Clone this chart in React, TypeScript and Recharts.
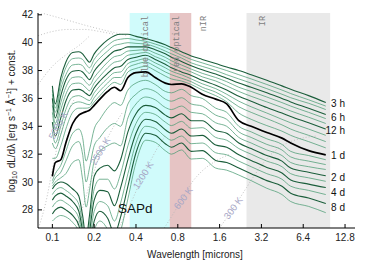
import { LineChart, Line, XAxis, YAxis, ReferenceArea } from "recharts";

// wavelength grid in microns
const wave = [0.1, 0.105, 0.115, 0.125, 0.14, 0.155, 0.165, 0.175, 0.185, 0.2, 0.22, 0.25, 0.28, 0.31, 0.35, 0.4, 0.47, 0.55, 0.65, 0.72, 0.85, 1.0, 1.2, 1.5, 1.8, 2.2, 2.7, 3.5, 4.5, 5.2, 7, 9.3];

// early epochs (above 1 d)
const h3 = [36.9, 35.6, 37.5, 38.6, 39.3, 39.35, 39.2, 38.85, 38.6, 39.2, 39.7, 40.2, 40.5, 40.6, 40.6, 40.45, 40.3, 40.1, 39.85, 39.65, 39.35, 39.05, 38.8, 38.5, 38.25, 38.0, 37.7, 37.3, 36.9, 36.65, 36.2, 35.7];
const l2 = [36.6, 35.3, 37.1, 38.2, 38.85, 38.9, 38.8, 38.45, 38.2, 38.8, 39.3, 39.8, 40.15, 40.25, 40.3, 40.2, 40.1, 39.9, 39.65, 39.45, 39.1, 38.8, 38.55, 38.25, 38.0, 37.7, 37.4, 37.0, 36.6, 36.35, 35.9, 35.45];
const l3 = [36.3, 35.0, 36.7, 37.7, 38.4, 38.45, 38.35, 38.0, 37.8, 38.4, 38.9, 39.4, 39.8, 39.9, 40.0, 39.95, 39.9, 39.7, 39.4, 39.2, 38.9, 38.55, 38.3, 38.0, 37.7, 37.4, 37.1, 36.7, 36.3, 36.05, 35.65, 35.2];
const h6 = [36.0, 34.6, 36.2, 37.3, 37.95, 38.0, 37.9, 37.6, 37.35, 37.95, 38.45, 39.0, 39.4, 39.5, 39.7, 39.7, 39.7, 39.5, 39.2, 38.95, 38.65, 38.35, 38.05, 37.75, 37.45, 37.1, 36.8, 36.4, 36.0, 35.75, 35.3, 34.85];
const l5 = [35.5, 34.2, 35.7, 36.8, 37.5, 37.55, 37.45, 37.15, 36.95, 37.5, 38.0, 38.6, 39.0, 39.1, 39.4, 39.45, 39.5, 39.25, 38.95, 38.7, 38.4, 38.1, 37.8, 37.5, 37.2, 36.8, 36.5, 36.1, 35.7, 35.45, 35.0, 34.55];
const l6 = [35.0, 33.8, 35.2, 36.3, 37.05, 37.1, 37.0, 36.75, 36.55, 37.1, 37.6, 38.2, 38.6, 38.7, 39.1, 39.2, 39.3, 39.0, 38.7, 38.45, 38.15, 37.9, 37.55, 37.25, 36.9, 36.5, 36.15, 35.75, 35.35, 35.1, 34.65, 34.2];
const h12 = [34.3, 33.3, 34.6, 35.8, 36.6, 36.65, 36.55, 36.35, 36.2, 36.75, 37.25, 37.8, 38.2, 38.3, 38.8, 38.95, 39.1, 38.8, 38.45, 38.2, 37.9, 37.65, 37.3, 36.95, 36.6, 36.15, 35.8, 35.35, 34.95, 34.7, 34.25, 33.8];
const l8 = [33.6, 32.8, 34.0, 35.2, 36.1, 36.2, 36.1, 35.95, 35.85, 36.4, 36.9, 37.45, 37.85, 37.9, 38.5, 38.7, 38.85, 38.55, 38.2, 37.95, 37.7, 37.4, 37.05, 36.7, 36.3, 35.8, 35.4, 34.95, 34.5, 34.25, 33.8, 33.35];
const l9 = [32.8, 32.4, 33.4, 34.6, 35.6, 35.75, 35.7, 35.6, 35.55, 36.05, 36.55, 37.1, 37.5, 37.5, 38.2, 38.45, 38.6, 38.3, 37.9, 37.7, 37.45, 37.2, 36.8, 36.45, 36.0, 35.4, 35.0, 34.55, 34.1, 33.8, 33.35, 32.9];
const l10 = [31.7, 31.7, 32.6, 33.8, 35.0, 35.3, 35.3, 35.3, 35.35, 35.75, 36.2, 36.8, 37.15, 37.0, 37.9, 38.15, 38.3, 38.0, 37.6, 37.4, 37.25, 37.0, 36.6, 36.2, 35.75, 34.95, 34.5, 34.05, 33.65, 33.35, 32.9, 32.45];

// 1 d
const d1 = [30.4, 31.4, 31.6, 32.8, 34.2, 34.8, 34.95, 35.05, 35.15, 35.5, 35.95, 36.5, 36.8, 36.55, 37.5, 37.85, 37.9, 37.5, 37.1, 37.0, 37.05, 36.8, 36.3, 35.95, 35.6, 34.4, 34.0, 33.55, 33.15, 32.8, 32.25, 31.95];

// late epochs (below 1 d)
const b1 = [30.1, 30.6, 31.2, 32.2, 33.5, 33.8, 33.2, 31.5, 32.3, 33.8, 34.5, 35.3, 35.7, 35.5, 36.6, 37.1, 37.3, 37.0, 36.5, 36.4, 36.65, 36.2, 36.0, 35.3, 35.0, 34.0, 33.6, 33.1, 32.7, 32.2, 31.9, 31.6];
const b2 = [29.9, 30.3, 30.7, 31.5, 32.6, 32.9, 32.0, 30.0, 31.0, 32.6, 33.2, 33.9, 34.2, 34.0, 35.6, 36.3, 36.7, 36.5, 35.95, 35.8, 36.05, 35.6, 35.45, 34.8, 34.5, 33.6, 33.2, 32.7, 32.3, 31.8, 31.5, 31.25];
const b3 = [29.7, 30.0, 30.3, 30.6, 31.4, 31.6, 30.2, 28.2, 29.4, 31.5, 32.2, 32.6, 32.8, 32.6, 34.6, 35.6, 36.1, 35.9, 35.35, 35.2, 35.45, 35.0, 34.9, 34.25, 34.0, 33.2, 32.8, 32.3, 31.9, 31.4, 31.1, 30.9];
const d2 = [29.5, 29.8, 30.0, 29.9, 29.5, 29.0, 27.6, 26.0, 27.6, 30.4, 31.0, 31.2, 30.8, 31.6, 33.6, 34.9, 35.5, 35.35, 34.8, 34.6, 34.9, 34.4, 34.4, 33.7, 33.5, 32.8, 32.4, 31.9, 31.5, 31.0, 30.7, 30.45];
const b5 = [29.1, 29.4, 29.6, 29.4, 29.0, 28.4, 27.0, 25.5, 27.0, 29.5, 30.2, 30.2, 29.5, 30.6, 32.6, 34.2, 35.0, 34.85, 34.3, 34.05, 34.35, 33.85, 33.9, 33.2, 33.0, 32.4, 32.0, 31.5, 31.1, 30.6, 30.3, 30.05];
const d4 = [28.7, 29.0, 29.2, 29.0, 28.6, 27.9, 26.5, 25.0, 26.4, 28.7, 29.4, 29.3, 28.3, 29.6, 31.6, 33.5, 34.5, 34.35, 33.75, 33.5, 33.8, 33.3, 33.35, 32.65, 32.5, 31.95, 31.55, 31.05, 30.65, 30.15, 29.85, 29.6];
const b7 = [28.2, 28.5, 28.7, 28.5, 28.1, 27.4, 26.0, 24.5, 25.8, 27.9, 28.6, 28.3, 27.2, 28.5, 30.6, 32.8, 34.0, 33.85, 33.25, 33.0, 33.3, 32.75, 32.8, 32.1, 31.95, 31.5, 31.1, 30.6, 30.2, 29.7, 29.4, 29.1];
const d8 = [27.7, 28.0, 28.2, 28.0, 27.6, 26.9, 25.5, 24.0, 25.2, 27.2, 27.9, 27.4, 26.3, 27.5, 29.7, 32.1, 33.5, 33.35, 32.75, 32.5, 32.8, 32.2, 32.25, 31.55, 31.4, 31.0, 30.6, 30.1, 29.7, 29.2, 28.85, 28.45];
const b9 = [27.2, 27.4, 27.6, 27.5, 27.1, 26.4, 25.0, 23.5, 24.6, 26.5, 27.2, 26.6, 25.5, 26.5, 28.8, 31.4, 33.0, 32.85, 32.25, 32.0, 32.3, 31.65, 31.7, 31.0, 30.85, 30.5, 30.1, 29.55, 29.1, 28.6, 28.25, 27.8];

// blackbody guide curves (dotted)
const bbTopW = [0.079, 0.12, 0.18, 0.26, 0.35];
const bbTopV = [42.2, 41.7, 41.2, 40.8, 40.5];
const bbArcW = [0.079, 0.1, 0.13, 0.17, 0.22, 0.28];
const bbArcV = [40.5, 40.8, 40.95, 40.95, 40.8, 40.6];
const bbMidW = [0.079, 0.1, 0.128, 0.16, 0.186];
const bbMidV = [37.0, 38.3, 39.2, 39.9, 40.5];
const bb5000W = [0.0795, 0.09, 0.1, 0.11, 0.125, 0.145];
const bb5000V = [26.7, 28.6, 30.9, 32.8, 34.6, 36.0];
const bb2500W = [0.15, 0.175, 0.2, 0.225, 0.26, 0.32];
const bb2500V = [26.7, 29.0, 30.8, 32.2, 33.5, 35.0];
const bb1200W = [0.3, 0.36, 0.42, 0.48, 0.56, 0.65];
const bb1200V = [26.7, 28.3, 29.8, 31.0, 32.3, 33.3];
const bb600W = [0.64, 0.75, 0.87, 1.0, 1.2, 1.5, 1.9];
const bb600V = [26.7, 27.8, 28.9, 29.9, 30.8, 31.5, 32.0];
const bb300W = [1.6, 2.0, 2.5, 3.0, 3.6, 4.5, 6, 8];
const bb300V = [26.7, 28.1, 29.6, 30.8, 31.8, 32.6, 33.1, 33.3];

const xTicks = [0.1, 0.2, 0.4, 0.8, 1.6, 3.2, 6.4, 12.8];
const yTicks = [28, 30, 32, 34, 36, 38, 40, 42];
const epochLabels = ["3 h", "6 h", "12 h", "1 d", "2 d", "4 d", "8 d"];
const epochLabelY = [107, 121, 134, 159, 181, 196, 211];
const tempLabels = ["5000 K", "2500 K", "1200 K", "600 K", "300 K"];

const LIGHT = "#4c9c74";
const DARK = "#1b5e3b";

const series = [
  { key: "h3", values: h3, kind: "dark" },
  { key: "l2", values: l2, kind: "light" },
  { key: "l3", values: l3, kind: "light" },
  { key: "h6", values: h6, kind: "dark" },
  { key: "l5", values: l5, kind: "light" },
  { key: "l6", values: l6, kind: "light" },
  { key: "h12", values: h12, kind: "dark" },
  { key: "l8", values: l8, kind: "light" },
  { key: "l9", values: l9, kind: "light" },
  { key: "l10", values: l10, kind: "light" },
  { key: "d1", values: d1, kind: "black" },
  { key: "b1", values: b1, kind: "light" },
  { key: "b2", values: b2, kind: "light" },
  { key: "b3", values: b3, kind: "light" },
  { key: "d2", values: d2, kind: "dark" },
  { key: "b5", values: b5, kind: "light" },
  { key: "d4", values: d4, kind: "dark" },
  { key: "b7", values: b7, kind: "light" },
  { key: "d8", values: d8, kind: "dark" },
  { key: "b9", values: b9, kind: "light" },
];

const rows = wave.map((w, i) => {
  const r: Record<string, number> = { w };
  series.forEach((s) => (r[s.key] = s.values[i]));
  return r;
});

const pairs = (ws: number[], vs: number[]) => ws.map((w, i) => ({ w, v: vs[i] }));
const guides = [
  pairs(bbTopW, bbTopV),
  pairs(bbArcW, bbArcV),
  pairs(bbMidW, bbMidV),
  pairs(bb5000W, bb5000V),
  pairs(bb2500W, bb2500V),
  pairs(bb1200W, bb1200V),
  pairs(bb600W, bb600V),
  pairs(bb300W, bb300V),
];

const order = { light: 0, dark: 1, black: 2 } as const;
const drawOrder = [...series].sort((a, b) => order[a.kind as keyof typeof order] - order[b.kind as keyof typeof order]);

const FONT = "'Liberation Sans', Arial, Helvetica, sans-serif";
const MONO = "'Liberation Mono', 'DejaVu Sans Mono', monospace";
const tickStyle = { fontSize: 10, fill: "#222", fontFamily: FONT };

// label positions (pixels)
const tempPos = [
  { x: 58, y: 125, a: -62 },
  { x: 100, y: 151, a: -59 },
  { x: 143, y: 175, a: -58 },
  { x: 183, y: 198, a: -54 },
  { x: 233, y: 208, a: -54 },
];
const bandText = [
  { t: "blue optical", x: 148 },
  { t: "red optical", x: 179 },
  { t: "nIR", x: 206 },
  { t: "IR", x: 265 },
];

export default function App() {
  return (
    <div style={{ position: "relative", width: 374, height: 261, background: "#fff" }}>
      <style>{`body{margin:0}`}</style>
      <LineChart
        width={374}
        height={261}
        data={rows}
        margin={{ top: 13, right: 19, left: 0, bottom: 0 }}
      >
        <XAxis
          dataKey="w"
          type="number"
          scale="log"
          domain={[0.0788, 15.1]}
          allowDataOverflow
          ticks={xTicks}
          tickFormatter={(v) => String(v)}
          tick={tickStyle}
          tickSize={-4}
          tickMargin={10}
          height={33}
          stroke="#000"
        />
        <XAxis
          xAxisId="top"
          dataKey="w"
          type="number"
          scale="log"
          orientation="top"
          domain={[0.0788, 15.1]}
          allowDataOverflow
          ticks={xTicks}
          tick={false}
          tickSize={-4}
          height={0}
          stroke="#000"
        />
        <YAxis
          type="number"
          domain={[26.7, 42.13]}
          allowDataOverflow
          ticks={yTicks}
          tick={tickStyle}
          tickSize={-4}
          tickMargin={9}
          width={38}
          stroke="#000"
        />
        <YAxis
          yAxisId="r"
          orientation="right"
          type="number"
          domain={[26.7, 42.13]}
          allowDataOverflow
          ticks={yTicks}
          tick={false}
          tickSize={-4}
          width={0}
          stroke="#000"
        />
        <ReferenceArea x1={0.36} x2={0.7} fill="#d0fbfb" fillOpacity={1} stroke="none" />
        <ReferenceArea x1={0.7} x2={1.0} fill="#e6c4c4" fillOpacity={1} stroke="none" />
        <ReferenceArea x1={2.5} x2={10} fill="#e9e9e9" fillOpacity={1} stroke="none" />
        {guides.map((g, i) => (
          <Line
            key={"bb" + i}
            data={g}
            dataKey="v"
            type="monotone"
            stroke="#b4b4b4"
            strokeWidth={0.8}
            strokeDasharray="1 2"
            dot={false}
            isAnimationActive={false}
          />
        ))}
        {drawOrder.map((s) => (
          <Line
            key={s.key}
            dataKey={s.key}
            type="monotone"
            stroke={s.kind === "black" ? "#000" : s.kind === "dark" ? DARK : LIGHT}
            strokeWidth={s.kind === "black" ? 1.7 : s.kind === "dark" ? 1.1 : 0.75}
            dot={false}
            isAnimationActive={false}
          />
        ))}
      </LineChart>
      <svg
        width={374}
        height={261}
        style={{ position: "absolute", left: 0, top: 0, pointerEvents: "none" }}
      >
        {bandText.map((b) => (
          <text
            key={b.t}
            x={b.x}
            y={16}
            transform={`rotate(-90 ${b.x} 16)`}
            textAnchor="end"
            fontFamily={MONO}
            fontSize={8.5}
            fill="#808080"
          >
            {b.t}
          </text>
        ))}
        {tempLabels.map((t, i) => (
          <text
            key={t}
            x={tempPos[i].x}
            y={tempPos[i].y}
            transform={`rotate(${tempPos[i].a} ${tempPos[i].x} ${tempPos[i].y})`}
            textAnchor="middle"
            dominantBaseline="central"
            fontFamily={FONT}
            fontSize={9.5}
            fill="#a6a6c6"
          >
            {t}
          </text>
        ))}
        {epochLabels.map((t, i) => (
          <text key={t} x={345} y={epochLabelY[i]} textAnchor="end" fontFamily={FONT} fontSize={10} fill="#111">
            {t}
          </text>
        ))}
        <text x={118} y={213} fontFamily={FONT} fontSize={13.5} fill="#111">
          SAPd
        </text>
        <text x={195} y={258} textAnchor="middle" fontFamily={FONT} fontSize={10} fill="#222">
          Wavelength [microns]
        </text>
        <text
          x={14.5}
          y={121}
          transform="rotate(-90 14.5 121)"
          textAnchor="middle"
          fontFamily={FONT}
          fontSize={10}
          fill="#222"
        >
          log
          <tspan fontSize={7} dy={2.5}>10</tspan>
          <tspan dy={-2.5}> dL/dλ [erg s</tspan>
          <tspan fontSize={7} dy={-4}>−1</tspan>
          <tspan dy={4}> Å</tspan>
          <tspan fontSize={7} dy={-4}>−1</tspan>
          <tspan dy={4}>] + const.</tspan>
        </text>
      </svg>
    </div>
  );
}
